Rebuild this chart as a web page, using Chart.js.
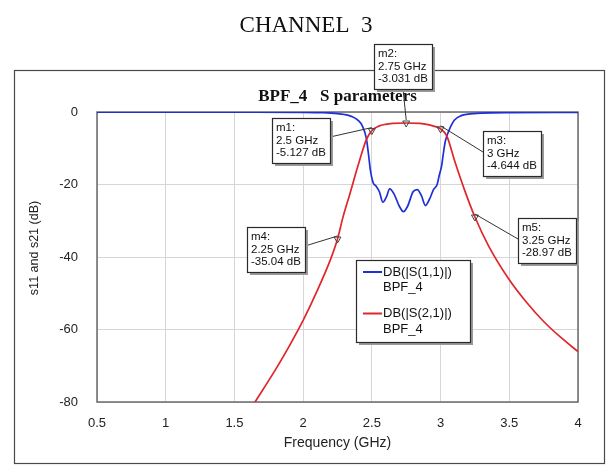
<!DOCTYPE html>
<html>
<head>
<meta charset="utf-8">
<title>CHANNEL 3</title>
<script src="https://cdn.jsdelivr.net/npm/chart.js@4.4.1/dist/chart.umd.min.js"></script>
<style>
  html, body { margin: 0; padding: 0; background: #fff; }
  #wrap { width: 613px; height: 468px; }
</style>
</head>
<body>
<div id="wrap"><canvas id="sparams" width="613" height="468"></canvas></div>
<script>
// ---- S11: return loss of BPF_4 (GHz, dB)
const s11Freq = [0.5, 1.0, 1.5, 2.0, 2.15, 2.25, 2.3, 2.35, 2.4, 2.43, 2.46, 2.475, 2.49, 2.51, 2.53,
                 2.555, 2.58, 2.605, 2.63, 2.66, 2.7, 2.73, 2.76, 2.8, 2.83, 2.86, 2.89, 2.92, 2.95,
                 2.975, 2.99, 3.007, 3.02, 3.035, 3.06, 3.1, 3.15, 3.2, 3.3, 3.5, 4.0];
const s11Db = [-0.05, -0.05, -0.06, -0.1, -0.2, -0.45, -0.7, -1.2, -2.3, -3.8, -7.3, -11.5, -16.2, -19.6, -20.4,
               -22, -24.9, -23.5, -21.2, -22.5, -26, -27.5, -26, -22, -21.4, -23, -25.8, -24, -21.3,
               -20, -17.5, -15, -11.5, -8, -5.2, -2.3, -1.0, -0.6, -0.3, -0.15, -0.1];

// ---- S21: insertion loss of BPF_4 (GHz, dB)
const s21Freq = [1.55, 1.65, 1.8, 1.9, 2.0, 2.1, 2.2, 2.25, 2.29, 2.34, 2.4, 2.46, 2.5, 2.55, 2.6, 2.65,
                 2.75, 2.85, 2.9, 2.95, 3.0, 3.045, 3.105, 3.18, 3.25, 3.35, 3.5, 3.625, 3.75, 3.875, 4.0];
const s21Db = [-86, -80, -71, -64.5, -57.5, -49.5, -40.6, -35.04, -29, -22.6, -14.7, -7.6, -5.127, -3.9, -3.4, -3.15,
               -3.031, -3.15, -3.4, -3.9, -4.644, -6.6, -13.8, -22.1, -28.97, -37.0, -46.3, -52.5, -57.8, -62.2, -66.1];

// ---- markers placed on the traces
const markerNames = ["m1", "m2", "m3", "m4", "m5"];
const markerFreq = [2.5, 2.75, 3, 2.25, 3.25];
const markerDb = [-5.127, -3.031, -4.644, -35.04, -28.97];

// ---- axes
const xTicks = [0.5, 1, 1.5, 2, 2.5, 3, 3.5, 4];
const yTicks = [0, -20, -40, -60, -80];

const seriesLabels = ["DB(|S(1,1)|)", "DB(|S(2,1)|)"];
const seriesSource = "BPF_4";
const seriesColors = ["#1f2fd6", "#e0262b"];

const SANS = 'Arial, "Liberation Sans", sans-serif';
const SERIF = '"Times New Roman", "Liberation Serif", serif';

// where each marker readout sits and which edge the leader leaves from
const readoutBoxes = {
  m1: { x: 272, y: 118, side: "right" },
  m2: { x: 374, y: 44,  side: "bottom" },
  m3: { x: 483, y: 131, side: "left" },
  m4: { x: 247, y: 227, side: "right" },
  m5: { x: 518, y: 218, side: "left" }
};

const zip = (xs, ys) => xs.map((x, i) => ({ x, y: ys[i] }));

function shadowBox(ctx, x, y, w, h) {
  ctx.fillStyle = "#9a9a9a";
  ctx.fillRect(x + 3, y + 3, w, h);
  ctx.fillStyle = "#fff";
  ctx.fillRect(x, y, w, h);
  ctx.strokeStyle = "#2a2a2a";
  ctx.lineWidth = 1.2;
  ctx.strokeRect(x + 0.5, y + 0.5, w, h);
}

const decorations = {
  id: "decorations",
  beforeDraw(chart) {
    const { ctx, chartArea: a } = chart;
    ctx.save();
    ctx.fillStyle = "#fff";
    ctx.fillRect(0, 0, chart.width, chart.height);

    // outer frame
    ctx.strokeStyle = "#4a4a4a";
    ctx.lineWidth = 1.2;
    ctx.strokeRect(14.5, 70.5, 590, 393);

    // page heading and plot title
    ctx.fillStyle = "#111";
    ctx.textAlign = "center";
    ctx.textBaseline = "alphabetic";
    ctx.font = "23px " + SERIF;
    ctx.fillText("CHANNEL  3", 306, 32);
    ctx.font = "bold 17px " + SERIF;
    ctx.fillText("BPF_4   S parameters", (a.left + a.right) / 2, 101);

    // axis titles
    ctx.fillStyle = "#222";
    ctx.font = "14px " + SANS;
    ctx.textBaseline = "middle";
    ctx.fillText("Frequency (GHz)", (a.left + a.right) / 2, 443);
    ctx.translate(35, 248);
    ctx.rotate(-Math.PI / 2);
    ctx.font = "12.5px " + SANS;
    ctx.fillText("s11 and s21 (dB)", 0, 0);
    ctx.restore();
  },
  beforeDatasetsDraw(chart) {
    const { ctx, chartArea: a } = chart;
    ctx.save();
    ctx.strokeStyle = "#6a6a6a";
    ctx.lineWidth = 1.5;
    ctx.strokeRect(a.left, a.top, a.right - a.left, a.bottom - a.top);
    ctx.restore();
  },
  afterDatasetsDraw(chart) {
    const { ctx } = chart;
    const xs = chart.scales.x, ys = chart.scales.y;
    ctx.save();
    ctx.font = "11.5px " + SANS;
    ctx.textBaseline = "middle";
    ctx.textAlign = "left";

    markerNames.forEach((name, i) => {
      const px = xs.getPixelForValue(markerFreq[i]);
      const py = ys.getPixelForValue(markerDb[i]);
      const lines = [name + ":", markerFreq[i] + " GHz", markerDb[i] + " dB"];
      const w = Math.round(Math.max(...lines.map(t => ctx.measureText(t).width)) + 8);
      const h = 45;
      const b = readoutBoxes[name];

      let ax, ay;
      if (b.side === "right") { ax = b.x + w; ay = b.y + 19; }
      else if (b.side === "left") { ax = b.x; ay = b.y + 21; }
      else { ax = b.x + w / 2; ay = b.y + h; }

      ctx.strokeStyle = "#333";
      ctx.lineWidth = 1;
      ctx.beginPath();
      ctx.moveTo(ax, ay);
      ctx.lineTo(px, py - 3);
      ctx.stroke();

      shadowBox(ctx, b.x, b.y, w, h);
      ctx.fillStyle = "#111";
      lines.forEach((t, k) => ctx.fillText(t, b.x + 4, b.y + 10 + k * 12.5));
    });

    // legend
    const lx = 356, ly = 260;
    shadowBox(ctx, lx, ly, 114, 82);
    ctx.font = "13px " + SANS;
    seriesLabels.forEach((label, k) => {
      const y = ly + 12 + k * 41.5;
      ctx.strokeStyle = seriesColors[k];
      ctx.lineWidth = 2;
      ctx.beginPath();
      ctx.moveTo(lx + 7, y);
      ctx.lineTo(lx + 26, y);
      ctx.stroke();
      ctx.fillStyle = "#111";
      ctx.fillText(label, lx + 27, y);
      ctx.fillText(seriesSource, lx + 27, y + 15.5);
    });
    ctx.restore();
  }
};

new Chart(document.getElementById("sparams"), {
  type: "line",
  data: {
    datasets: [
      {
        label: "markers",
        data: zip(markerFreq, markerDb),
        showLine: false,
        pointStyle: "triangle",
        rotation: 180,
        pointRadius: 4,
        pointBorderWidth: 1,
        pointBorderColor: "#444",
        pointBackgroundColor: "rgba(0,0,0,0)",
        order: 0
      },
      {
        label: seriesLabels[0],
        data: zip(s11Freq, s11Db),
        borderColor: seriesColors[0],
        borderWidth: 1.7,
        pointRadius: 0,
        cubicInterpolationMode: "monotone",
        order: 2
      },
      {
        label: seriesLabels[1],
        data: zip(s21Freq, s21Db),
        borderColor: seriesColors[1],
        borderWidth: 1.7,
        pointRadius: 0,
        cubicInterpolationMode: "monotone",
        order: 1
      }
    ]
  },
  options: {
    responsive: false,
    animation: false,
    devicePixelRatio: 1,
    layout: { padding: { left: 0, right: 35, top: 112, bottom: 0 } },
    plugins: {
      legend: { display: false },
      title: { display: false },
      tooltip: { enabled: false }
    },
    scales: {
      x: {
        type: "linear",
        min: 0.5,
        max: 4,
        afterFit: s => { s.height = 66; },
        afterBuildTicks: s => { s.ticks = xTicks.map(v => ({ value: v })); },
        grid: { color: "#d6d6d6", lineWidth: 1, drawTicks: false },
        border: { display: false },
        ticks: {
          padding: 14,
          color: "#222",
          font: { family: SANS, size: 13 },
          callback: v => String(v)
        }
      },
      y: {
        type: "linear",
        min: -80,
        max: 0,
        afterFit: s => { s.width = 97; },
        afterBuildTicks: s => { s.ticks = yTicks.map(v => ({ value: v })); },
        grid: { color: "#d6d6d6", lineWidth: 1, drawTicks: false },
        border: { display: false },
        ticks: {
          padding: 19,
          color: "#222",
          font: { family: SANS, size: 13 },
          callback: v => String(v)
        }
      }
    }
  },
  plugins: [decorations]
});
</script>
</body>
</html>
